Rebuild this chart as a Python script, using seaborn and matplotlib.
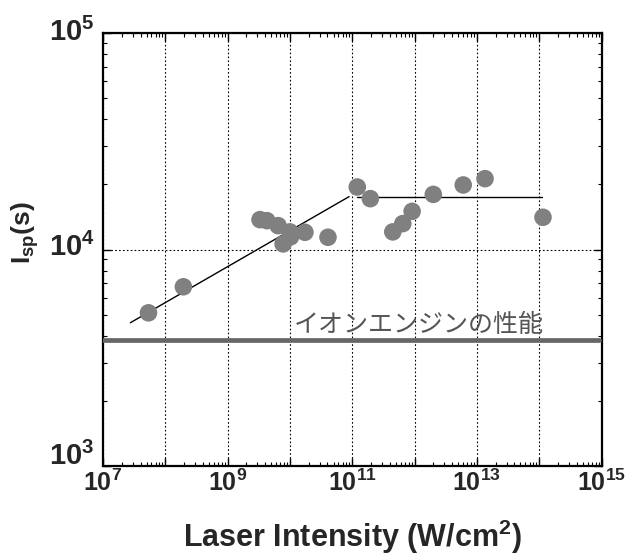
import numpy as np
import pandas as pd
import matplotlib
matplotlib.use("Agg")
import matplotlib.pyplot as plt
import matplotlib.transforms as mtransforms
import seaborn as sns
from matplotlib.ticker import LogLocator, NullFormatter, FixedLocator

# =========================
# DATA
# =========================
log_intensity = [7.73, 8.29, 9.52, 9.63, 9.81, 10.00, 9.89, 10.01, 10.24, 10.61,
                 11.08, 11.29, 11.65, 11.81, 11.96, 12.30, 12.78, 13.13, 14.06]
isp = [5100, 6730, 13750, 13600, 12900, 12070, 10620, 11450, 12020, 11400,
       19460, 17190, 12070, 13180, 15020, 17990, 19890, 21270, 14100]

fit_low_x = [2.75e7, 8.9e10]
fit_low_y = [4590, 17570]
fit_high_x = [1.2e11, 1.12e14]
fit_high_y = [17510, 17510]

ION_ENGINE_ISP = 3820
ION_ENGINE_LABEL = "イオンエンジンの性能"

x_tick_exp = [7, 9, 11, 13, 15]
y_tick_exp = [3, 4, 5]

df = pd.DataFrame({"intensity": 10 ** np.array(log_intensity), "isp": isp})

# =========================
# STYLE
# =========================
sns.set_style("ticks")
plt.rcParams["font.family"] = ["Liberation Sans", "DejaVu Sans"]
plt.rcParams["mathtext.fontset"] = "custom"
plt.rcParams["mathtext.rm"] = "Liberation Sans:bold"
plt.rcParams["mathtext.bf"] = "Liberation Sans:bold"
plt.rcParams["mathtext.it"] = "Liberation Sans:bold"

fig = plt.figure(figsize=(6.26, 5.58), dpi=100)
ax = fig.add_axes([0.1645, 0.165, 0.7965, 0.7755])

# =========================
# PLOT
# =========================
sns.scatterplot(data=df, x="intensity", y="isp", ax=ax, s=160, color="#808080",
                edgecolor="none", zorder=4)
sns.lineplot(x=fit_low_x, y=fit_low_y, ax=ax, color="black", linewidth=1.0, zorder=3)
sns.lineplot(x=fit_high_x, y=fit_high_y, ax=ax, color="black", linewidth=1.0, zorder=3)
ax.axhline(ION_ENGINE_ISP, xmin=0, xmax=0.995, color="#666666", linewidth=3.4, zorder=3)
ax.text(1.17e10, 4150, ION_ENGINE_LABEL, ha="left", va="baseline",
        fontsize=18, color="#555555", family=["Noto Sans CJK JP", "DejaVu Sans"])

ax.set_xscale("log")
ax.set_yscale("log")
ax.set_xlim(1e7, 1e15)
ax.set_ylim(1e3, 1e5)

# ticks: grid at every decade, labels every second decade
ax.xaxis.set_major_locator(FixedLocator([10.0 ** k for k in range(7, 16)]))
ax.xaxis.set_minor_locator(LogLocator(base=10, subs=np.arange(2, 10), numticks=50))
ax.xaxis.set_minor_formatter(NullFormatter())
ax.set_xticks([10.0 ** k for k in range(7, 16)])
ax.set_xticklabels([r"$10^{%d}$" % k if k in x_tick_exp else "" for k in range(7, 16)])
ax.yaxis.set_major_locator(FixedLocator([10.0 ** k for k in y_tick_exp]))
ax.yaxis.set_minor_locator(LogLocator(base=10, subs=np.arange(2, 10), numticks=50))
ax.yaxis.set_minor_formatter(NullFormatter())
ax.set_yticklabels([r"$10^{%d}$" % k for k in y_tick_exp])

ax.tick_params(which="both", direction="in", top=True, right=True, color="black")
ax.tick_params(which="major", length=6, width=1.0)
ax.tick_params(which="minor", length=3, width=0.8)
ax.tick_params(axis="x", which="major", labelsize=18, pad=3)
ax.tick_params(axis="y", which="major", labelsize=21, pad=6)

# nudge y tick labels up a little (lowest one more), as in the original
for lab, dy in zip(ax.get_yticklabels(), [9, 4, 3]):
    lab.set_transform(lab.get_transform()
                      + mtransforms.ScaledTranslation(0, dy / 72, fig.dpi_scale_trans))

ax.grid(True, which="major", linestyle=(0, (1.5, 2)), color="black", linewidth=0.8)

for sp in ax.spines.values():
    sp.set_linewidth(1.6)
    sp.set_color("black")

ax.set_xlabel(r"Laser Intensity (W/cm$^{2}$)", fontsize=22, fontweight="bold", labelpad=15)
ax.set_ylabel(r"I$_{\mathregular{sp}}$(s)", fontsize=19, fontweight="bold")
ax.yaxis.set_label_coords(-0.125, 0.54)

fig.savefig("out.png", dpi=100)
